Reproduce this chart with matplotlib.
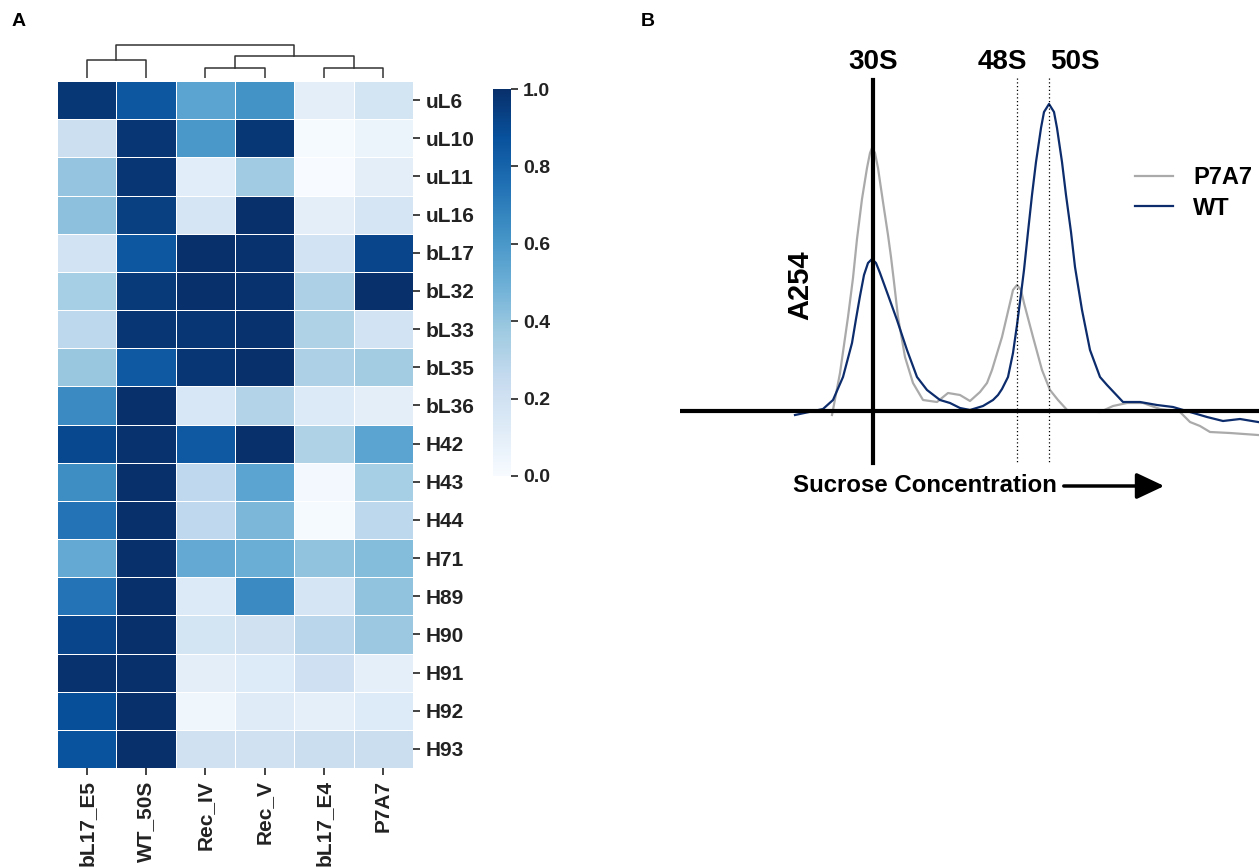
import numpy as np
import matplotlib
matplotlib.use('Agg')
import matplotlib.pyplot as plt

plt.rcParams['font.family'] = ['Liberation Sans', 'DejaVu Sans']
plt.rcParams['font.weight'] = 'bold'

#########################################
# panel A data : relative protein levels (0-1)
samples = ['bL17_E5', 'WT_50S', 'Rec_IV', 'Rec_V', 'bL17_E4', 'P7A7']
proteins = ['uL6', 'uL10', 'uL11', 'uL16', 'bL17', 'bL32', 'bL33', 'bL35', 'bL36',
            'H42', 'H43', 'H44', 'H71', 'H89', 'H90', 'H91', 'H92', 'H93']

uL6 = [0.97, 0.85, 0.55, 0.62, 0.10, 0.18]
uL10 = [0.22, 0.98, 0.60, 0.97, 0.01, 0.06]
uL11 = [0.40, 0.98, 0.11, 0.37, 0.00, 0.10]
uL16 = [0.42, 0.94, 0.17, 1.00, 0.10, 0.17]
bL17 = [0.19, 0.85, 1.00, 0.99, 0.19, 0.92]
bL32 = [0.35, 0.96, 1.00, 0.99, 0.33, 1.00]
bL33 = [0.28, 0.98, 0.98, 0.99, 0.32, 0.19]
bL35 = [0.39, 0.84, 0.98, 1.00, 0.33, 0.36]
bL36 = [0.65, 1.00, 0.16, 0.31, 0.14, 0.10]
H42 = [0.91, 0.99, 0.84, 1.00, 0.32, 0.55]
H43 = [0.64, 1.00, 0.27, 0.55, 0.02, 0.35]
H44 = [0.74, 1.00, 0.27, 0.46, 0.01, 0.28]
H71 = [0.52, 1.00, 0.52, 0.50, 0.41, 0.44]
H89 = [0.74, 1.00, 0.14, 0.65, 0.17, 0.41]
H90 = [0.92, 1.00, 0.18, 0.20, 0.29, 0.38]
H91 = [0.99, 1.00, 0.10, 0.13, 0.21, 0.09]
H92 = [0.88, 1.00, 0.04, 0.12, 0.09, 0.13]
H93 = [0.87, 1.00, 0.20, 0.20, 0.23, 0.23]

levels = np.array([uL6, uL10, uL11, uL16, bL17, bL32, bL33, bL35, bL36,
                   H42, H43, H44, H71, H89, H90, H91, H92, H93])

# column dendrogram merges (child a, child b, height), new nodes numbered from 6
merges = [(0, 1, 18.0), (2, 3, 10.6), (4, 5, 10.6), (7, 8, 22.6), (6, 9, 33.3)]

# panel B data : gradient profiles (position, A254)
wt_pos = [11.5, 14.3, 15.3, 16.3, 17.2, 17.6, 18.0, 18.4, 18.8, 19.2, 19.6, 20.0, 20.4,
          20.8, 21.7, 22.7, 23.7, 24.7, 26.0, 27.0, 28.0, 29.0, 30.3, 31.3, 31.8, 32.2,
          32.8, 33.3, 33.7, 34.2, 34.4, 34.8, 35.2, 35.6, 36.1, 36.4, 36.9, 37.4, 37.7,
          38.2, 38.6, 39.1, 39.5, 40.2, 41.0, 42.0, 42.7, 44.3, 46.0, 47.7, 49.3, 51.0,
          52.7, 54.3, 56.0, 57.8]
wt_abs = [-0.04, 0.02, 0.11, 0.34, 0.68, 0.92, 1.15, 1.36, 1.48, 1.52, 1.48, 1.38, 1.27,
          1.16, 0.91, 0.61, 0.34, 0.21, 0.11, 0.08, 0.03, 0.01, 0.05, 0.11, 0.16, 0.22,
          0.34, 0.58, 0.86, 1.25, 1.41, 1.79, 2.16, 2.49, 2.83, 2.99, 3.07, 2.99, 2.83,
          2.49, 2.16, 1.79, 1.44, 1.01, 0.61, 0.34, 0.26, 0.09, 0.09, 0.06, 0.04, -0.01,
          -0.06, -0.10, -0.08, -0.11]

p7a7_pos = [15.2, 16.0, 16.8, 17.3, 17.7, 18.2, 18.7, 19.0, 19.2, 19.5, 19.8, 20.3, 20.8,
            21.1, 21.4, 21.8, 22.5, 23.3, 24.3, 25.7, 26.8, 28.0, 29.0, 30.0, 30.7, 31.2,
            32.2, 33.0, 33.3, 33.7, 34.1, 34.4, 35.3, 36.2, 37.0, 37.8, 38.8, 42.0, 43.3,
            44.7, 46.3, 48.0, 50.0, 51.0, 52.0, 53.0, 55.0, 57.8]
p7a7_abs = [-0.04, 0.38, 0.94, 1.33, 1.72, 2.12, 2.43, 2.58, 2.63, 2.58, 2.43, 2.09, 1.76,
            1.54, 1.29, 0.94, 0.54, 0.28, 0.11, 0.09, 0.18, 0.16, 0.10, 0.19, 0.28, 0.41,
            0.74, 1.08, 1.21, 1.26, 1.21, 1.08, 0.74, 0.41, 0.21, 0.11, 0.00, -0.01, 0.05,
            0.08, 0.08, 0.02, -0.01, -0.11, -0.15, -0.21, -0.22, -0.24]

peak_names = ['30S', '48S', '50S']
peak_pos = [19.3, 33.7, 36.9]
#########################################

W, H = 1259, 868


def box(l, t, r, b):
    # pixel box -> figure fraction
    return [l / W, 1 - b / H, (r - l) / W, (b - t) / H]


fig = plt.figure(figsize=(W / 100, H / 100), dpi=100)

# heatmap
ax = fig.add_axes(box(57, 81, 413, 768))
mesh = ax.pcolormesh(levels, cmap='Blues', vmin=0, vmax=1, edgecolors='white', linewidth=0.7)
ax.set_xlim(0, len(samples))
ax.set_ylim(len(proteins), 0)
ax.set_xticks(np.arange(len(samples)) + 0.5)
ax.set_xticklabels(samples, rotation=90, fontsize=15, fontweight='bold', color='#222222')
ax.yaxis.tick_right()
ax.set_yticks(np.arange(len(proteins)) + 0.5)
ax.set_yticklabels(proteins, fontsize=15, fontweight='bold', color='#222222')
ax.tick_params(length=5, width=1.2, pad=4, color='#222222')
for s in ax.spines.values():
    s.set_visible(False)

# dendrogram
axd = fig.add_axes(box(57, 40, 413, 78.3))
node_x = [i + 0.5 for i in range(len(samples))]
node_h = [0.0] * len(samples)
for a, b, h in merges:
    axd.plot([node_x[a], node_x[a], node_x[b], node_x[b]], [node_h[a], h, h, node_h[b]],
             color='#333333', lw=1.1)
    node_x.append((node_x[a] + node_x[b]) / 2)
    node_h.append(h)
axd.set_xlim(0, len(samples))
axd.set_ylim(0, 38.3)
axd.axis('off')

# colorbar
cax = fig.add_axes(box(493, 89, 511, 476))
cb = fig.colorbar(mesh, cax=cax, ticks=[0, 0.2, 0.4, 0.6, 0.8, 1.0])
cb.outline.set_visible(False)
cb.ax.set_yticklabels(['0.0', '0.2', '0.4', '0.6', '0.8', '1.0'], fontsize=14,
                      fontweight='bold', color='#222222')
cb.ax.tick_params(length=5, width=1.2, color='#222222')

# profiles
axb = fig.add_axes(box(680, 40, 1259, 500))
axb.plot(p7a7_pos, p7a7_abs, color='#aaaaaa', lw=1.6, label='P7A7', solid_joinstyle='round')
axb.plot(wt_pos, wt_abs, color='#0c2c6c', lw=1.6, label='WT', solid_joinstyle='round')
axb.axhline(0, color='black', lw=3, zorder=5)
axb.plot([peak_pos[0], peak_pos[0]], [3.31, -0.52], color='black', lw=3, zorder=5)
for p in peak_pos[1:]:
    axb.plot([p, p], [3.33, -0.52], color='black', lw=0.9, ls=(0, (1, 2)), zorder=5)

axb.text(19.3, 3.49, peak_names[0], fontsize=20, ha='center', va='center')
axb.text(32.2, 3.49, peak_names[1], fontsize=20, ha='center', va='center')
axb.text(39.5, 3.49, peak_names[2], fontsize=20, ha='center', va='center')
axb.text(12.0, 1.26, 'A254', fontsize=21, rotation=90, ha='center', va='center')
axb.text(11.3, -0.75, 'Sucrose Concentration', fontsize=17.3, ha='left', va='center')
axb.annotate('', xy=(48.7, -0.75), xytext=(38.1, -0.75),
             arrowprops=dict(arrowstyle='-|>,head_length=0.85,head_width=0.4',
                             mutation_scale=20, color='black', lw=2.5))
axb.legend(loc='upper left', bbox_to_anchor=(0.786, 0.725), frameon=False, fontsize=17,
           handlelength=1.6, handletextpad=0.85, labelspacing=0.3, borderpad=0,
           borderaxespad=0)
axb.set_xlim(0, 57.9)
axb.set_ylim(-0.89, 3.71)
axb.axis('off')

fig.text(19 / W, 1 - 22 / H, 'A', fontsize=14, ha='center', va='center')
fig.text(648 / W, 1 - 22 / H, 'B', fontsize=14, ha='center', va='center')

fig.savefig('out.png', dpi=100)
